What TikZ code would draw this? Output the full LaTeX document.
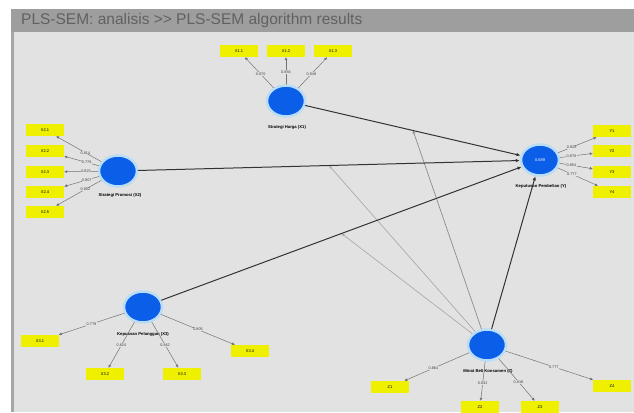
\documentclass[tikz,border=0pt]{standalone}
\usepackage{fontspec}
\setmainfont{Liberation Sans}
\usetikzlibrary{arrows.meta,shapes.geometric}
\definecolor{panelbg}{HTML}{E2E2E2}
\definecolor{barbg}{HTML}{9E9E9E}
\definecolor{lvblue}{HTML}{0B5EE8}
\definecolor{lvglow}{HTML}{B9DDF6}
\definecolor{mvyellow}{HTML}{EEF000}
\definecolor{modgray}{HTML}{ABABAB}
\tikzset{
	lv/.style={ellipse, fill=lvblue, draw=lvglow, line width=2.5pt, minimum width=38pt, minimum height=31pt, inner sep=0pt, text=white, font=\fontsize{4}{5}\selectfont},
	mv/.style={rectangle, fill=mvyellow, minimum width=38pt, minimum height=12pt, inner sep=0pt, font=\fontsize{4}{5}\selectfont},
	lvname/.style={font=\bfseries\fontsize{4.2}{5}\selectfont},
	loadlbl/.style={font=\fontsize{3.8}{4.5}\selectfont, text=black!75, fill=panelbg, inner sep=0.4pt},
	outer/.style={draw=black!55, line width=0.5pt, -{Latex[length=3pt,width=3pt]}},
	structural/.style={draw=black!80, line width=1pt, -{Latex[length=4pt,width=3.5pt]}},
	moderating/.style={draw=modgray, line width=0.7pt, -{Latex[length=3pt,width=3pt]}}
}
\begin{document}
\begin{tikzpicture}[x=1pt, y=-1pt, line cap=round, line join=round]
	\useasboundingbox (0,0) rectangle (634,412);
	% latar belakang jendela
	\fill[white] (0,0) rectangle (634,412);
	\fill[panelbg] (12,32) rectangle (634,412);
	\fill[black!35] (11,32) rectangle (14,412);
	\fill[barbg] (11,9) rectangle (634,32);
	\node[anchor=west, text=black!62, font=\fontsize{15.5}{18}\selectfont, inner sep=0pt] (title) at (21,20) {PLS-SEM: analisis >{}> PLS-SEM algorithm results};
	% variabel laten
	\node[lv] (X1) at (286,101) {};
	\node[lv] (X2) at (118,171) {};
	\node[lv] (Y) at (540,160) {0.689};
	\node[lv] (X3) at (143,307) {};
	\node[lv] (Z) at (487,345) {};
	\node[lvname] (nX1) at (287,127) {Strategi Harga (X1)};
	\node[lvname] (nX2) at (120,195) {Strategi Promosi (X2)};
	\node[lvname] (nY) at (541,186) {Keputusan Pembelian (Y)};
	\node[lvname] (nX3) at (143,334) {Kepuasan Pelanggan (X3)};
	\node[lvname] (nZ) at (488,371) {Minat Beli Konsumen (Z)};
	% indikator X1
	\foreach \i/\x/\l in {1/239/0.870, 2/286/0.884, 3/333/0.848} {
		\node[mv] (X1\i) at (\x,51) {X1.\i};
		\draw[outer] (X1) -- node[loadlbl, pos=0.45] {\l} (X1\i);
	}
	% indikator X2
	\foreach \i/\y/\l in {1/130/0.814, 2/151/0.776, 3/172/0.823, 4/192/0.807, 5/212/0.802} {
		\node[mv] (X2\i) at (45,\y) {X2.\i};
		\draw[outer] (X2) -- node[loadlbl, pos=0.35] {\l} (X2\i);
	}
	% indikator Y
	\foreach \i/\y/\l in {1/131/0.828, 2/151/0.870, 3/172/0.854, 4/192/0.777} {
		\node[mv] (Y\i) at (612,\y) {Y\i};
		\draw[outer] (Y) -- node[loadlbl, pos=0.35] {\l} (Y\i);
	}
	% indikator X3
	\foreach \i/\x/\y/\l in {1/40/341/0.779, 2/105/374/0.824, 3/182/374/0.842, 4/250/351/0.805} {
		\node[mv] (X3\i) at (\x,\y) {X3.\i};
		\draw[outer] (X3) -- node[loadlbl, pos=0.5] {\l} (X3\i);
	}
	% indikator Z
	\foreach \i/\x/\y/\l in {1/390/387/0.864, 2/480/407/0.832, 3/540/407/0.818, 4/612/386/0.777} {
		\node[mv] (Z\i) at (\x,\y) {Z\i};
		\draw[outer] (Z) -- node[loadlbl, pos=0.55] {\l} (Z\i);
	}
	% jalur struktural
	\path (X1) -- coordinate[pos=0.5] (m1) (Y);
	\path (X2) -- coordinate[pos=0.5] (m2) (Y);
	\path (X3) -- coordinate[pos=0.5] (m3) (Y);
	\draw[moderating] (Z) -- (m2);
	\draw[moderating] (Z) -- (m3);
	\draw[moderating, draw=black!45] (Z) -- (m1);
	\draw[structural] (X1) -- (Y);
	\draw[structural] (X2) -- (Y);
	\draw[structural] (X3) -- (Y);
	\draw[structural] (Z) -- (Y);
\end{tikzpicture}
\end{document}
